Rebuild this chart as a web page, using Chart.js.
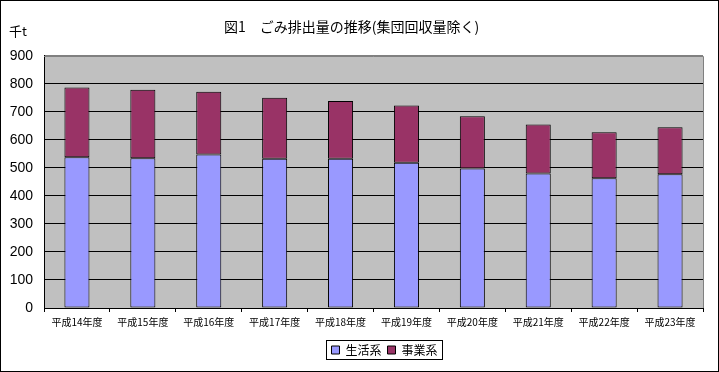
<!DOCTYPE html>
<html>
<head>
<meta charset="utf-8">
<script src="https://cdn.jsdelivr.net/npm/chart.js@4"></script>
<style>
  body { margin: 0; background: #fff; }
  #wrap { width: 719px; height: 372px; }
</style>
</head>
<body>
<div id="wrap"><canvas id="chart1" width="719" height="372"></canvas></div>
<script>
// data (thousand tonnes)
var years = ["平成14年度", "平成15年度", "平成16年度", "平成17年度", "平成18年度",
             "平成19年度", "平成20年度", "平成21年度", "平成22年度", "平成23年度"];
var household = [538, 534, 548, 533, 533, 518, 498, 480, 463, 477];
var business = [249, 245, 224, 217, 206, 205, 186, 175, 164, 168];
var yTicks = [0, 100, 200, 300, 400, 500, 600, 700, 800, 900];

var jpFont = "'Noto Sans CJK JP', sans-serif";

// white page, gray plot area, frame lines, unit label, legend box
var decorations = {
    id: "decorations",
    afterLayout: function(chart) {
        // the legend sits a bit right of centre in the original
        chart.legend.left += 33;
        chart.legend.right += 33;
    },
    beforeDraw: function(chart) {
        var ctx = chart.ctx;
        var a = chart.chartArea;
        ctx.save();
        ctx.fillStyle = "#fff";
        ctx.fillRect(0, 0, chart.width, chart.height);
        ctx.fillStyle = "#c0c0c0";
        ctx.fillRect(a.left, a.top, a.right - a.left, a.bottom - a.top);
        ctx.restore();
    },
    afterDraw: function(chart) {
        var ctx = chart.ctx;
        var a = chart.chartArea;
        ctx.save();
        // gray top/right edge of plot
        ctx.strokeStyle = "#808080";
        ctx.lineWidth = 1;
        ctx.beginPath();
        ctx.moveTo(a.left, Math.round(a.top) + 0.5);
        ctx.lineTo(Math.round(a.right) + 0.5, Math.round(a.top) + 0.5);
        ctx.lineTo(Math.round(a.right) + 0.5, a.bottom);
        ctx.stroke();

        // unit
        ctx.fillStyle = "#000";
        ctx.font = "13px " + jpFont;
        ctx.textBaseline = "middle";
        ctx.fillText("千t", 9, 31);

        // legend frame
        var boxes = chart.legend.legendHitBoxes;
        if (boxes && boxes.length) {
            var first = boxes[0];
            var last = boxes[boxes.length - 1];
            var x1 = Math.round(first.left) - 4.5;
            var x2 = Math.round(last.left + last.width) + 4.5;
            var y1 = Math.round(first.top) - 3.5;
            var y2 = Math.round(first.top + first.height) + 3.5;
            ctx.strokeStyle = "#000";
            ctx.strokeRect(x1, y1, x2 - x1, y2 - y1);
        }

        // outer frame
        ctx.strokeStyle = "#000";
        ctx.strokeRect(0.5, 0.5, chart.width - 1, chart.height - 1);
        ctx.restore();
    }
};

var myChart = document.getElementById("chart1").getContext("2d");
var chart = new Chart(myChart, {
    type: "bar",
    data: {
        labels: years,
        datasets: [
            {
                label: "生活系",
                data: household,
                backgroundColor: "#9999ff",
                borderColor: "#000",
                borderWidth: 1,
                borderSkipped: false
            },
            {
                label: "事業系",
                data: business,
                backgroundColor: "#993366",
                borderColor: "#000",
                borderWidth: 1,
                borderSkipped: false
            }
        ]
    },
    options: {
        responsive: false,
        animation: false,
        layout: { padding: { left: 0, right: 16, top: 0, bottom: 6 } },
        datasets: { bar: { categoryPercentage: 1, barPercentage: 0.38 } },
        scales: {
            x: {
                stacked: true,
                offset: true,
                grid: { offset: true, drawOnChartArea: false, color: "#000", tickLength: 4 },
                border: { color: "#000" },
                ticks: { color: "#000", font: { family: jpFont, size: 10 }, padding: 4, maxRotation: 0, autoSkip: false },
                afterFit: function(scale) { scale.height = 30; }
            },
            y: {
                stacked: true,
                min: 0,
                max: 900,
                afterBuildTicks: function(scale) {
                    scale.ticks = yTicks.map(function(v) { return { value: v }; });
                },
                grid: {
                    color: function(c) { return c.tick && c.tick.value === 900 ? "#808080" : "#000"; },
                    tickLength: 0
                },
                border: { color: "#000" },
                ticks: { color: "#000", font: { family: "'Liberation Sans', sans-serif", size: 14 }, padding: 11 },
                afterFit: function(scale) { scale.width = 44; }
            }
        },
        plugins: {
            title: {
                display: true,
                text: "図1　ごみ排出量の推移(集団回収量除く)",
                color: "#000",
                font: { family: jpFont, size: 14, weight: "normal" },
                padding: { top: 18, bottom: 21 }
            },
            legend: {
                position: "bottom",
                labels: {
                    color: "#000",
                    font: { family: jpFont, size: 12 },
                    boxWidth: 8,
                    boxHeight: 8,
                    padding: 6
                }
            },
            tooltip: { enabled: false }
        }
    },
    plugins: [decorations]
});
</script>
</body>
</html>
